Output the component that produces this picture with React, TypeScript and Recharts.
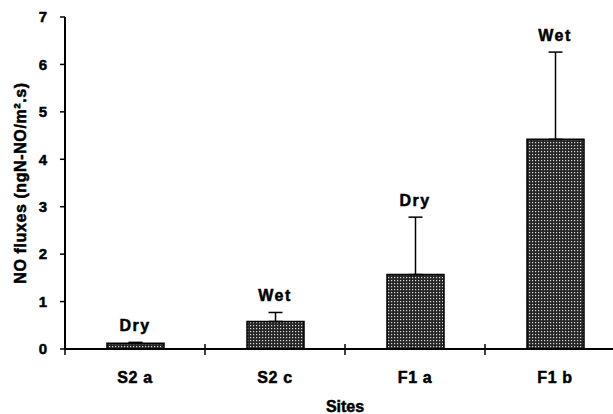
import { ComposedChart, Bar, Line, XAxis, YAxis, ErrorBar, LabelList } from 'recharts'

const sites = ['S2 a', 'S2 c', 'F1 a', 'F1 b']
const fluxes = [0.12, 0.58, 1.57, 4.42]
const errors = [0.02, 0.19, 1.21, 1.84]
const seasons = ['Dry', 'Wet', 'Dry', 'Wet']
const yTicks = [0, 1, 2, 3, 4, 5, 6, 7]

const data = sites.map((site, i) => ({
  site,
  flux: fluxes[i],
  err: [0, errors[i]],
  top: fluxes[i] + errors[i],
  season: seasons[i],
}))

const font = '"Liberation Sans", Arial, sans-serif'
// scanned print looks heavier than plain bold, so add a thin outline
const heavy = { fontFamily: font, fontWeight: 'bold', fill: '#000', stroke: '#000', strokeWidth: 0.5 }

// category ticks: label in the middle, marks on the band edges
const SiteTick = (props: any) => {
  const { x, y, payload, index, visibleTicksCount } = props
  const half = payload.offset ?? 70
  const last = index === visibleTicksCount - 1
  return (
    <g>
      <line x1={x - half} x2={x - half} y1={y - 5} y2={y + 6} stroke="#000" strokeWidth={1.5} />
      {last && <line x1={x + half} x2={x + half} y1={y - 5} y2={y + 6} stroke="#000" strokeWidth={1.5} />}
      <text x={x} y={y + 34} textAnchor="middle" fontSize={16} letterSpacing={0.6} {...heavy}>
        {payload.value}
      </text>
    </g>
  )
}

const SeasonLabel = (props: any) => {
  const { x, y, value } = props
  return (
    <text x={x} y={y - 11} textAnchor="middle" fontSize={16} letterSpacing={1.5} {...heavy}>
      {value}
    </text>
  )
}

const YTitle = (props: any) => {
  const { viewBox } = props
  const cy = viewBox.y + viewBox.height / 2
  return (
    <text x={20} y={cy} transform={`rotate(-90, 20, ${cy})`} textAnchor="middle" dominantBaseline="central" fontSize={16} letterSpacing={0.6} {...heavy}>
      NO fluxes (ngN-NO/m².s)
    </text>
  )
}

export default function App() {
  return (
    <div style={{ position: 'fixed', left: 0, top: 0, width: 613, height: 414, overflow: 'hidden', background: '#fff' }}>
      <ComposedChart width={640} height={414} data={data} margin={{ top: 17, right: 15, bottom: 0, left: 0 }} barSize={57}>
        <defs>
          <pattern id="dots" width="3" height="3" patternUnits="userSpaceOnUse">
            <rect width="3" height="3" fill="#262626" />
            <rect x="1" y="1" width="1.2" height="1.2" fill="#d8d8d8" />
          </pattern>
        </defs>
        <XAxis
          xAxisId="top"
          orientation="top"
          dataKey="site"
          height={0}
          tick={false}
          tickLine={false}
          axisLine={{ stroke: '#000', strokeWidth: 2 }}
        />
        <XAxis
          xAxisId="cat"
          dataKey="site"
          height={65}
          tickSize={0}
          tickMargin={0}
          tickLine={false}
          axisLine={{ stroke: '#000', strokeWidth: 2 }}
          tick={<SiteTick />}
          interval={0}
          label={{ value: 'Sites', position: 'insideBottom', offset: 2, fontSize: 16, ...heavy }}
        />
        <YAxis
          domain={[0, 7]}
          ticks={yTicks}
          width={65}
          interval={0}
          tickSize={5}
          tickMargin={13}
          tickLine={{ stroke: '#000', strokeWidth: 1.5 }}
          axisLine={{ stroke: '#000', strokeWidth: 2 }}
          tick={{ fontSize: 15, ...heavy }}
          label={{ content: <YTitle /> } as any}
        />
        <Bar xAxisId="cat" dataKey="flux" fill="url(#dots)" stroke="#000" strokeWidth={1.5} isAnimationActive={false}>
          <ErrorBar dataKey="err" width={7} stroke="#000" strokeWidth={1.5} direction="y" />
        </Bar>
        <Line xAxisId="cat" dataKey="top" stroke="none" dot={false} activeDot={false} isAnimationActive={false}>
          <LabelList dataKey="season" content={<SeasonLabel />} />
        </Line>
      </ComposedChart>
    </div>
  )
}
